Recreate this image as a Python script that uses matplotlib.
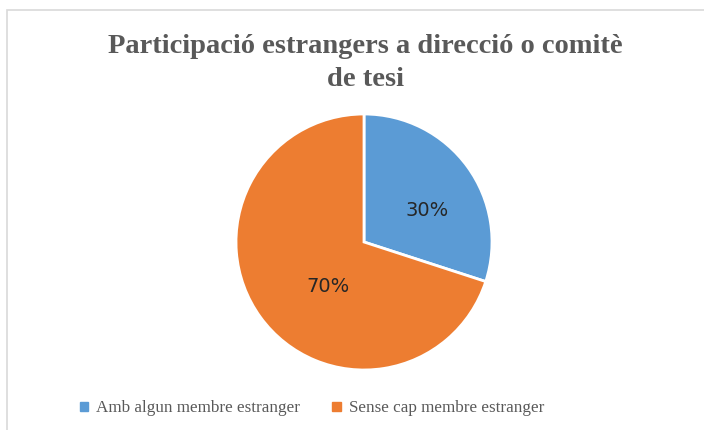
import matplotlib
matplotlib.use('Agg')
import matplotlib.pyplot as plt
from matplotlib.patches import Rectangle

title = 'Participació estrangers a direcció o comitè\nde tesi'
labels = ['Amb algun membre estranger', 'Sense cap membre estranger']
values = [30, 70]
colors = ['#5B9BD5', '#ED7D31']

fig = plt.figure(figsize=(7.04, 4.30), dpi=100)

# chart border (cut off on the right and bottom like the screenshot)
fig.patches.append(Rectangle((7 / 704, -0.1), 1.2, (430 - 10) / 430 + 0.1,
                             transform=fig.transFigure, fill=False,
                             edgecolor='#D9D9D9', linewidth=1.2))

fig.text(0.519, 0.853, title, ha='center', va='center', fontsize=20.5,
         fontweight='bold', family='Liberation Serif', color='#595959',
         linespacing=1.4)

ax = fig.add_axes([(364 - 128) / 704, (430 - 242 - 128) / 430, 256 / 704, 256 / 430])
wedges, texts, autotexts = ax.pie(values, colors=colors, startangle=90, counterclock=False,
                                  autopct='%1.0f%%', pctdistance=0.55,
                                  wedgeprops=dict(edgecolor='white', linewidth=2),
                                  textprops=dict(fontsize=14, color='#262626', family='DejaVu Sans'))
ax.set_aspect('equal')
ax.set_xlim(-1, 1)
ax.set_ylim(-1, 1)
# move labels roughly where Excel puts them
autotexts[0].set_position((0.49, 0.25))
autotexts[1].set_position((-0.28, -0.35))

handles = [plt.Rectangle((0, 0), 1, 1, color=c) for c in colors]
leg = fig.legend(handles, labels, loc='center', bbox_to_anchor=(0.443, 0.05), ncol=2,
                 frameon=False, handlelength=0.5, handleheight=0.5, handletextpad=0.45,
                 columnspacing=1.9, prop=dict(family='Liberation Serif', size=12.3))
for t in leg.get_texts():
    t.set_color('#595959')

fig.savefig('out.png', dpi=100)
